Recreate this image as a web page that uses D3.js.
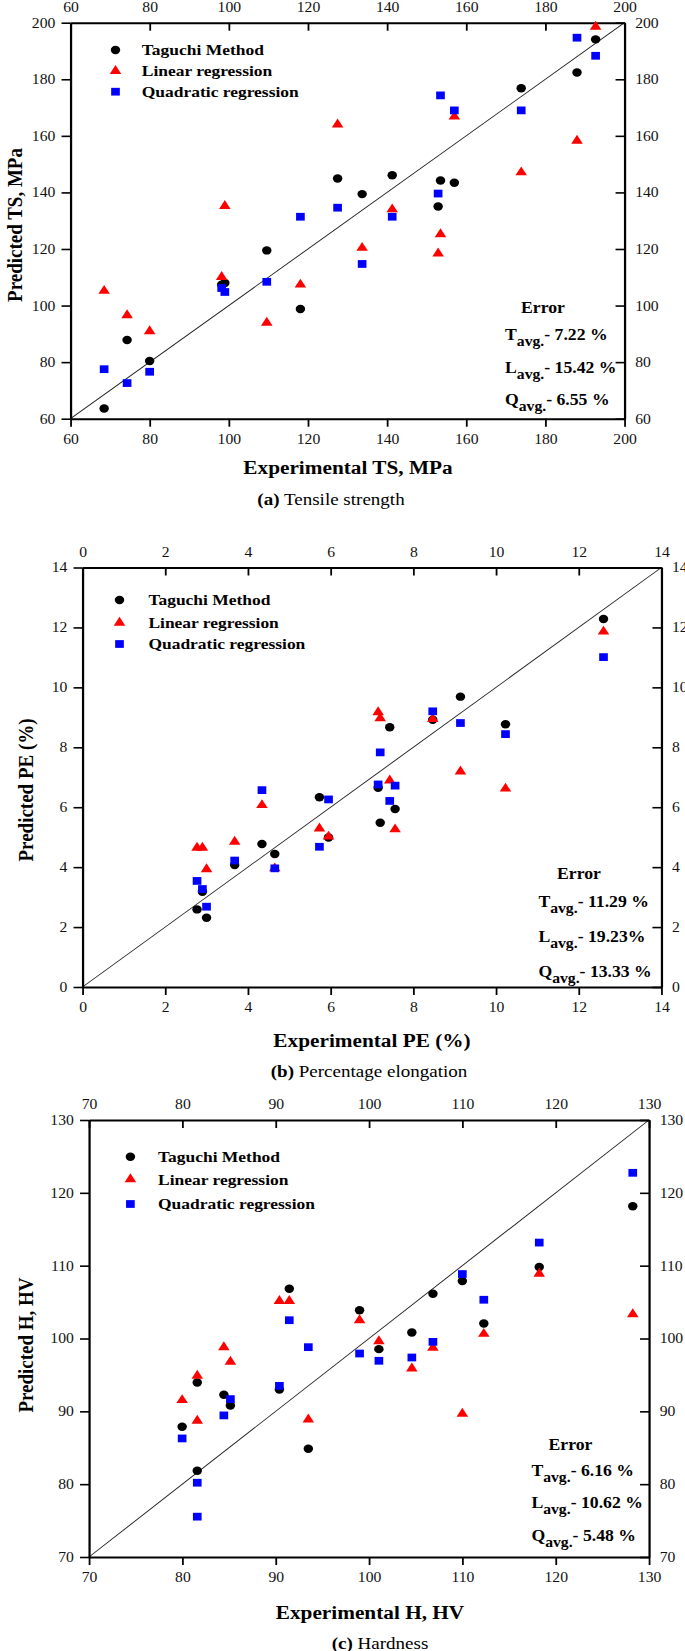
<!DOCTYPE html>
<html>
<head>
<meta charset="utf-8">
<script src="https://cdn.jsdelivr.net/npm/d3@7"></script>
<style>
  body { margin: 0; background: #fff; }
  svg { display: block; font-family: "Liberation Serif", "Times New Roman", serif; }
</style>
</head>
<body>
<div class="chart"></div>
<script>
// (a) tensile strength
var tsExp     = [68.5, 74.3, 80.0, 98.2, 99.0, 109.6, 118.1, 127.5, 133.7, 141.3, 152.9, 153.5, 157.0, 173.9, 188.0, 192.7];
var tsTaguchi = [63.6, 87.8, 80.4, 107.4, 108.0, 119.5, 98.8, 144.9, 139.4, 146.1, 135.0, 144.2, 143.4, 176.8, 182.4, 194.1];
var tsLinear  = [105.2, 96.6, 90.9, 110.1, 135.2, 93.9, 107.4, 164.0, 120.4, 134.0, 118.4, 125.2, 166.8, 147.1, 158.3, 198.6];
var tsQuad    = [77.5, 72.6, 76.6, 106.2, 104.8, 108.4, 131.4, 134.6, 114.7, 131.4, 139.6, 174.3, 169.0, 169.0, 194.7, 188.3];
var tsTicks   = [60, 80, 100, 120, 140, 160, 180, 200];
var tsErrors  = ["7.22 %", "15.42 %", "6.55 %"];

// (b) percentage elongation
var peExp     = [2.77, 2.9, 3.0, 3.68, 4.34, 4.65, 5.73, 5.95, 7.15, 7.2, 7.43, 7.56, 8.47, 9.14, 10.23, 12.6];
var peTaguchi = [2.59, 3.18, 2.31, 4.07, 4.77, 4.44, 6.33, 4.99, 6.65, 5.48, 8.67, 5.94, 8.92, 9.69, 8.77, 12.28];
var peLinear  = [4.65, 4.65, 3.93, 4.85, 6.07, 3.96, 5.29, 5.02, 9.17, 8.97, 6.89, 5.26, 8.94, 7.19, 6.62, 11.86];
var peQuad    = [3.54, 3.27, 2.68, 4.22, 6.57, 3.96, 4.68, 6.26, 6.76, 7.83, 6.21, 6.72, 9.2, 8.81, 8.44, 11.01];
var peTicks   = [0, 2, 4, 6, 8, 10, 12, 14];
var peErrors  = ["11.29 %", "19.23%", "13.33 %"];

// (c) hardness
var hExp      = [79.98, 81.6, 81.6, 84.45, 85.15, 90.4, 91.46, 93.5, 98.99, 101.06, 104.59, 106.85, 110.0, 112.3, 118.24, 128.26];
var hTaguchi  = [87.88, 93.96, 81.85, 92.27, 90.81, 93.0, 106.83, 84.87, 103.89, 98.54, 100.82, 106.15, 107.89, 102.06, 109.82, 118.17];
var hLinear   = [91.54, 94.88, 88.71, 98.81, 96.8, 105.14, 105.14, 88.89, 102.51, 99.63, 95.88, 98.72, 89.66, 100.64, 108.9, 103.34];
var hQuad     = [86.28, 80.2, 75.54, 89.44, 91.68, 93.5, 102.51, 98.81, 97.94, 96.94, 97.39, 99.54, 108.85, 105.32, 113.17, 122.75];
var hTicks    = [70, 80, 90, 100, 110, 120, 130];
var hErrors   = ["6.16 %", "10.62 %", "5.48 %"];

var legendLabels = ["Taguchi Method", "Linear regression", "Quadratic regression"];
var errorLetters = ["T", "L", "Q"];

// the source figure is a bit stretched sideways, so draw in a squeezed frame
var SX = 1.12;

var panels = [
  {exp: tsExp, series: [tsTaguchi, tsLinear, tsQuad], ticks: tsTicks, errors: tsErrors,
   left: 70.5, right: 624.5, top: 22.7, bottom: 418.7,
   yTitle: "Predicted TS, MPa", yTitleX: 15, yTitleY: 225,
   xTitle: "Experimental TS, MPa", xTitleX: 348, xTitleY: 474,
   capTag: "(a)", capText: " Tensile strength", capX: 331, capY: 505,
   legX: 115.5, legY: [50, 71, 91.7], legTextX: 141.8,
   errX: 543, errY: 313, lineX: 505, lineY: [340, 372.7, 405]},
  {exp: peExp, series: [peTaguchi, peLinear, peQuad], ticks: peTicks, errors: peErrors,
   left: 82.5, right: 661.4, top: 567.5, bottom: 987,
   yTitle: "Predicted PE (%)", yTitleX: 26, yTitleY: 790,
   xTitle: "Experimental PE (%)", xTitleX: 372, xTitleY: 1047,
   capTag: "(b)", capText: " Percentage elongation", capX: 369, capY: 1077,
   legX: 119.5, legY: [600, 622.7, 644], legTextX: 148.4,
   errX: 579, errY: 879, lineX: 538.4, lineY: [906.7, 941.7, 976.7]},
  {exp: hExp, series: [hTaguchi, hLinear, hQuad], ticks: hTicks, errors: hErrors,
   left: 89, right: 649, top: 1120, bottom: 1557,
   yTitle: "Predicted H, HV", yTitleX: 26, yTitleY: 1345,
   xTitle: "Experimental H, HV", xTitleX: 370, xTitleY: 1619,
   capTag: "(c)", capText: " Hardness", capX: 380, capY: 1649,
   legX: 130.4, legY: [1156.7, 1179.3, 1204], legTextX: 158,
   errX: 570.5, errY: 1450, lineX: 531.4, lineY: [1476, 1508.3, 1540.7]}
];

var markerColors = ["#000000", "#ff0000", "#0000ff"];
var markerShapes = [
  d3.symbol().type(d3.symbolCircle).size(56),
  d3.symbol().type(d3.symbolTriangle).size(46),
  d3.symbol().type(d3.symbolSquare).size(60)
];

function init(){
  var svg = d3.select(".chart")
              .append("svg")
              .attr("width", 685)
              .attr("height", 1651);

  var root = svg.append("g")
                .attr("transform", "scale(" + SX + ",1)");

  panels.forEach(function(p){
    drawPanel(root, p);
  });
}

function drawPanel(root, p){
  var dom = [p.ticks[0], p.ticks[p.ticks.length - 1]];

  var x = d3.scaleLinear()
            .domain(dom)
            .range([p.left / SX, p.right / SX]);

  var y = d3.scaleLinear()
            .domain(dom)
            .range([p.bottom, p.top]);

  var g = root.append("g");

  // 1:1 line
  g.append("line")
    .attr("x1", x(dom[0]))
    .attr("y1", y(dom[0]))
    .attr("x2", x(dom[1]))
    .attr("y2", y(dom[1]))
    .attr("stroke", "#222")
    .attr("stroke-width", 0.9);

  var axes = [
    {ax: d3.axisBottom(x).tickSizeInner(8).tickPadding(7), tr: "translate(0," + p.bottom + ")"},
    {ax: d3.axisTop(x).tickSizeInner(-8).tickPadding(11), tr: "translate(0," + p.top + ")"},
    {ax: d3.axisLeft(y).tickSizeInner(8).tickPadding(5.5), tr: "translate(" + (p.left / SX) + ",0)"},
    {ax: d3.axisRight(y).tickSizeInner(-8).tickPadding(9.5), tr: "translate(" + (p.right / SX) + ",0)"}
  ];

  axes.forEach(function(a){
    var axisG = g.append("g")
                  .attr("transform", a.tr)
                  .attr("font-family", null)
                  .call(a.ax.tickValues(p.ticks).tickSizeOuter(0).tickFormat(d3.format("d")));
    axisG.select(".domain").attr("stroke-width", 2);
    axisG.selectAll(".tick line").attr("stroke-width", 1.6);
    axisG.selectAll("text")
          .style("font-family", "'Liberation Serif', serif")
          .style("font-size", "14px")
          .attr("fill", "#111");
  });

  // points: Taguchi first, then linear, then quadratic on top
  p.series.forEach(function(vals, k){
    g.append("g")
      .selectAll("path")
      .data(vals)
      .join("path")
        .attr("d", markerShapes[k])
        .attr("fill", markerColors[k])
        .attr("transform", function(d, i){
          return "translate(" + x(p.exp[i]) + "," + y(d) + ")";
        });
  });

  // legend
  legendLabels.forEach(function(lab, k){
    g.append("path")
      .attr("d", markerShapes[k])
      .attr("fill", markerColors[k])
      .attr("transform", "translate(" + (p.legX / SX) + "," + p.legY[k] + ")");
    g.append("text")
      .attr("x", p.legTextX / SX)
      .attr("y", p.legY[k] + 5.5)
      .attr("font-weight", "bold")
      .attr("font-size", 15.6)
      .text(lab);
  });

  // error box
  g.append("text")
    .attr("x", p.errX / SX)
    .attr("y", p.errY)
    .attr("text-anchor", "middle")
    .attr("font-weight", "bold")
    .attr("font-size", 15.8)
    .text("Error");

  errorLetters.forEach(function(letter, k){
    var t = g.append("text")
              .attr("x", p.lineX / SX)
              .attr("y", p.lineY[k])
              .attr("font-weight", "bold")
              .attr("font-size", 15.8);
    t.append("tspan").text(letter);
    t.append("tspan").attr("font-size", 14).attr("dy", 6).text("avg.");
    t.append("tspan").attr("dy", -6).text("- " + p.errors[k]);
  });

  // axis titles
  g.append("text")
    .attr("transform", "translate(" + (p.yTitleX / SX) + "," + p.yTitleY + ") rotate(-90)")
    .attr("text-anchor", "middle")
    .attr("dy", "0.35em")
    .attr("font-weight", "bold")
    .attr("font-size", 19)
    .text(p.yTitle);

  g.append("text")
    .attr("x", p.xTitleX / SX)
    .attr("y", p.xTitleY)
    .attr("text-anchor", "middle")
    .attr("font-weight", "bold")
    .attr("font-size", 19)
    .text(p.xTitle);

  // caption
  var cap = g.append("text")
              .attr("x", p.capX / SX)
              .attr("y", p.capY)
              .attr("text-anchor", "middle")
              .attr("font-size", 17);
  cap.append("tspan").attr("font-weight", "bold").text(p.capTag);
  cap.append("tspan").text(p.capText);
}

window.onload = init;
</script>
</body>
</html>
